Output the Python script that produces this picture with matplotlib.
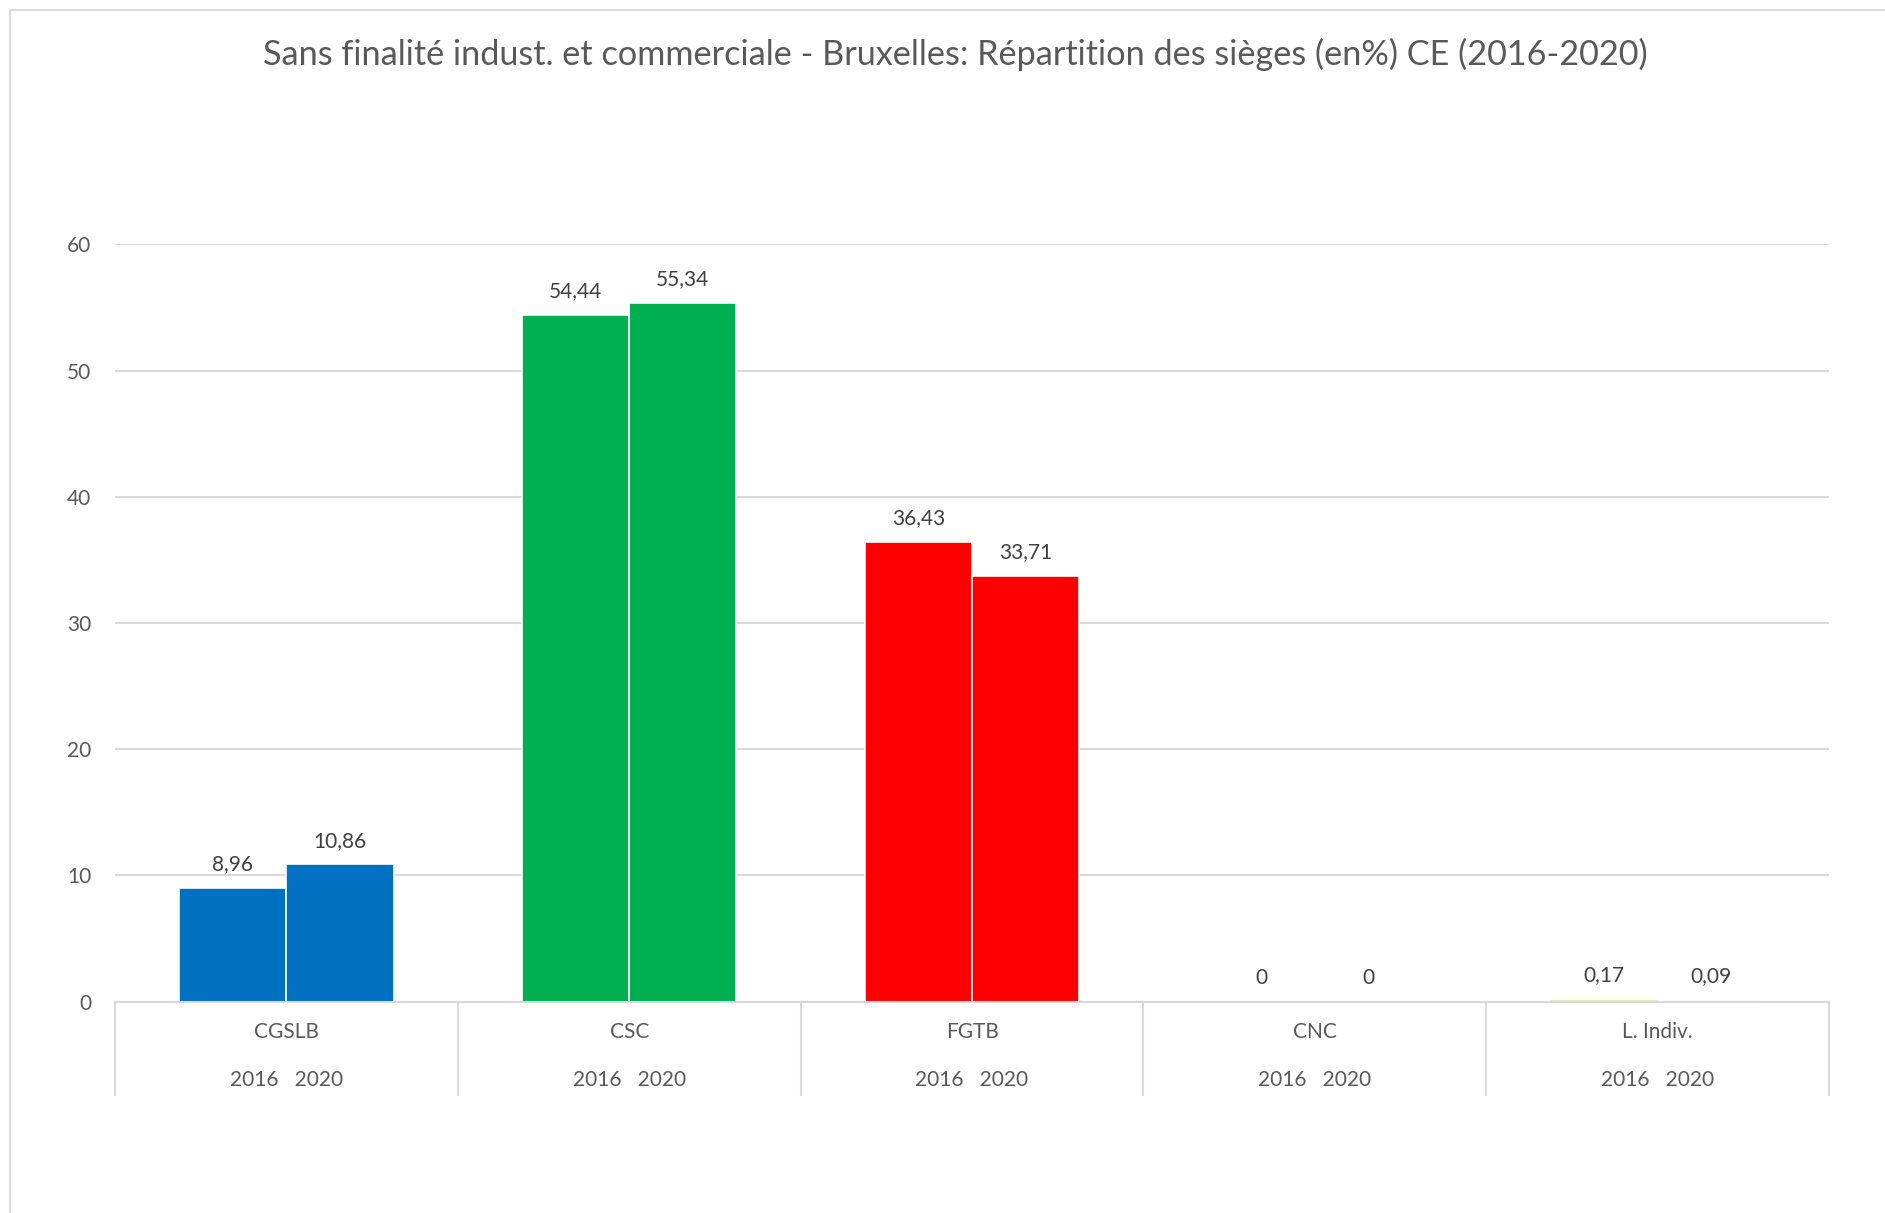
import matplotlib
matplotlib.use("Agg")
import matplotlib.pyplot as plt
from matplotlib.lines import Line2D
import matplotlib.transforms as mtransforms

# Données
categories = ["CGSLB", "CSC", "FGTB", "CNC", "L. Indiv."]
annees = ["2016", "2020"]
val_2016 = [8.96, 54.44, 36.43, 0, 0.17]
val_2020 = [10.86, 55.34, 33.71, 0, 0.09]
couleurs_2016 = ["#0070C0", "#00B050", "#FF0000", "#FFFFFF", "#E9F0B4"]
couleurs_2020 = ["#0070C0", "#00B050", "#FF0000", "#FFFFFF", "#EEEEEE"]
yticks = [0, 10, 20, 30, 40, 50, 60]

titre = "Sans finalité indust. et commerciale - Bruxelles: Répartition des sièges (en%) CE (2016-2020)"

plt.rcParams['font.family'] = ['Lato', 'DejaVu Sans']
gris_txt = "#595959"
gris_ligne = "#D9D9D9"

W, H = 1885, 1213
fig = plt.figure(figsize=(W / 100, H / 100), dpi=100)

# cadre du graphique (coupé à droite et en bas)
fig.add_artist(Line2D([10 / W, 1], [1 - 10 / H, 1 - 10 / H], color=gris_ligne, lw=1.5))
fig.add_artist(Line2D([10 / W, 10 / W], [0, 1 - 10 / H], color=gris_ligne, lw=1.5))

x0, y0, x1, y1 = 115, 1001.5, 1829, 244.5
ax = fig.add_axes([x0 / W, 1 - y0 / H, (x1 - x0) / W, (y0 - y1) / H])

largeur = 0.3125
x = list(range(len(categories)))
b1 = ax.bar([i - largeur / 2 for i in x], val_2016, largeur, color=couleurs_2016,
            edgecolor="white", linewidth=1.2, zorder=3)
b2 = ax.bar([i + largeur / 2 for i in x], val_2020, largeur, color=couleurs_2020,
            edgecolor="white", linewidth=1.2, zorder=3)

for barres, vals in ((b1, val_2016), (b2, val_2020)):
    for b, v in zip(barres, vals):
        txt = ("%g" % v).replace(".", ",")
        if v not in (0,) and round(v, 2) != v:
            txt = ("%.2f" % v).replace(".", ",")
        ax.annotate(txt, (b.get_x() + b.get_width() / 2, v), xytext=(0, 10),
                    textcoords="offset points", ha="center", va="bottom",
                    fontsize=15, color="#404040")

ax.set_xlim(-0.5, len(categories) - 0.5)
ax.set_ylim(0, 60)
ax.set_yticks(yticks)
ax.set_yticklabels([str(t) for t in yticks], fontsize=15, color=gris_txt)
ax.tick_params(axis="y", length=0, pad=17)
ax.set_xticks([])
ax.grid(axis="y", color=gris_ligne, lw=1.5, zorder=0)
for s in ax.spines.values():
    s.set_visible(False)

# axe des catégories à deux niveaux
trans = mtransforms.blended_transform_factory(ax.transData, ax.transAxes)
bas = -93 / (y0 - y1)
ax.plot([-0.5, len(categories) - 0.5], [0, 0], transform=trans, color=gris_ligne,
        lw=1.5, clip_on=False, zorder=4)
for i in range(len(categories) + 1):
    ax.plot([i - 0.5, i - 0.5], [0, bas], transform=trans, color=gris_ligne,
            lw=1.5, clip_on=False)
for i, c in enumerate(categories):
    ax.text(i, -31 / (y0 - y1), c, transform=trans, ha="center", va="center",
            fontsize=15, color=gris_txt)
    ax.text(i, -79 / (y0 - y1), "   ".join(annees), transform=trans, ha="center",
            va="center", fontsize=15, color=gris_txt)

fig.text(955 / W, 1 - 54 / H, titre, ha="center", va="center", fontsize=24.7,
         color=gris_txt)

fig.savefig("out.png", dpi=100, facecolor="white")
